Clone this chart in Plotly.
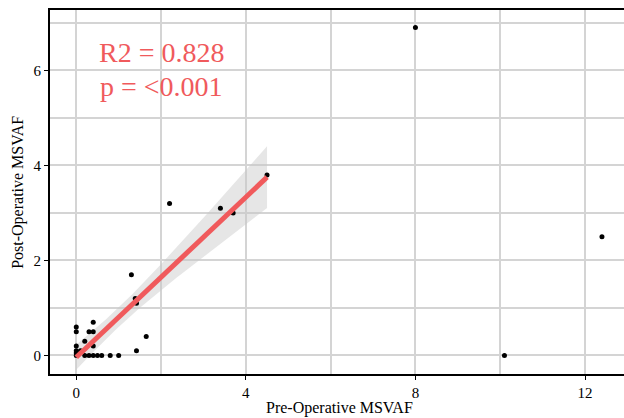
import numpy as np
import plotly.graph_objects as go

# Data
pre_msvaf = [0, 0, 0, 0, 0, 0, 0.1, 0.2, 0.2, 0.3, 0.3, 0.4, 0.4, 0.4, 0.4, 0.5, 0.6,
             0.8, 1.0, 1.42, 1.65, 1.3, 1.39, 1.42, 2.2, 3.4, 3.7, 4.5, 8.0, 10.1, 12.4]
post_msvaf = [0, 0.05, 0.1, 0.2, 0.5, 0.6, 0.1, 0.3, 0.0, 0.5, 0.0, 0.7, 0.5, 0.2, 0.0, 0.0, 0.0,
              0.0, 0.0, 0.1, 0.4, 1.7, 1.2, 1.1, 3.2, 3.1, 3.0, 3.8, 6.9, 0.0, 2.5]
fit_max_x = 4.5  # fit restricted to the main cluster
annot_lines = ["R2 = 0.828", "p = <0.001"]
x_title = "Pre-Operative MSVAF"
y_title = "Post-Operative MSVAF"

RED = "#F05A5C"
FONT = "Liberation Serif, Times New Roman, serif"

x = np.array(pre_msvaf)
y = np.array(post_msvaf)
mask = x <= fit_max_x
xs, ys = x[mask], y[mask]
n = len(xs)
b1, b0 = np.polyfit(xs, ys, 1)
resid = ys - (b0 + b1 * xs)
s = np.sqrt(np.sum(resid ** 2) / (n - 2))
xbar = xs.mean()
sxx = np.sum((xs - xbar) ** 2)
xg = np.linspace(xs.min(), xs.max(), 80)
yg = b0 + b1 * xg
se = s * np.sqrt(1 / n + (xg - xbar) ** 2 / sxx)
tcrit = 2.06
lo, hi = yg - tcrit * se, yg + tcrit * se

fig = go.Figure()
fig.add_trace(go.Scatter(x=np.concatenate([xg, xg[::-1]]), y=np.concatenate([hi, lo[::-1]]),
                         fill="toself", fillcolor="rgba(200,200,200,0.45)", line=dict(width=0),
                         hoverinfo="skip", showlegend=False))
fig.add_trace(go.Scatter(x=pre_msvaf, y=post_msvaf, mode="markers",
                         marker=dict(color="black", size=5), showlegend=False))
fig.add_trace(go.Scatter(x=xg, y=yg, mode="lines", line=dict(color=RED, width=5),
                         showlegend=False))

fig.add_annotation(x=2.0, y=6.38, text=annot_lines[0], showarrow=False,
                   font=dict(family=FONT, size=28, color=RED), xanchor="center", yanchor="middle")
fig.add_annotation(x=2.0, y=5.66, text=annot_lines[1], showarrow=False,
                   font=dict(family=FONT, size=28, color=RED), xanchor="center", yanchor="middle")

# axis titles
fig.add_annotation(x=0.505, y=-0.093, xref="paper", yref="paper", text=x_title, showarrow=False,
                   font=dict(family=FONT, size=16, color="black"), xanchor="center", yanchor="middle")
fig.add_annotation(x=-0.056, y=0.5, xref="paper", yref="paper", text=y_title, showarrow=False,
                   textangle=-90, font=dict(family=FONT, size=16, color="black"),
                   xanchor="center", yanchor="middle")

grid = "#d4d4d4"
fig.update_layout(
    width=624, height=418,
    margin=dict(l=50, r=0, t=10, b=44),
    paper_bgcolor="white", plot_bgcolor="white",
    font=dict(family=FONT, size=14, color="black"),
    xaxis=dict(range=[-0.62, 12.92], tick0=0, dtick=4, showgrid=True, gridcolor=grid, gridwidth=1.5,
               minor=dict(dtick=2, tick0=0, showgrid=True, gridcolor=grid, gridwidth=1.5),
               showline=True, linecolor="black", linewidth=2, mirror=True,
               ticks="outside", ticklen=4, tickcolor="black", tickwidth=1,
               zeroline=False, automargin=False,
               tickfont=dict(family=FONT, size=15, color="black")),
    yaxis=dict(range=[-0.39, 7.27], tick0=0, dtick=2, showgrid=True, gridcolor=grid, gridwidth=1.5,
               minor=dict(dtick=1, tick0=0, showgrid=True, gridcolor=grid, gridwidth=1.5),
               showline=True, linecolor="black", linewidth=2,
               ticks="outside", ticklen=4, tickcolor="black", tickwidth=1,
               zeroline=False, automargin=False,
               tickfont=dict(family=FONT, size=15, color="black")),
)

fig.write_html("out.html", config={"displayModeBar": False})

# remove the default page margin so the figure sits at the window's top-left corner
with open("out.html", "r", encoding="utf-8") as f:
    html = f.read()
html = html.replace("<body>", '<body style="margin:0;padding:0;">', 1)
html = html.replace("<head>", '<head><style>html,body{margin:0;padding:0;overflow:hidden;}</style>', 1)
with open("out.html", "w", encoding="utf-8") as f:
    f.write(html)
